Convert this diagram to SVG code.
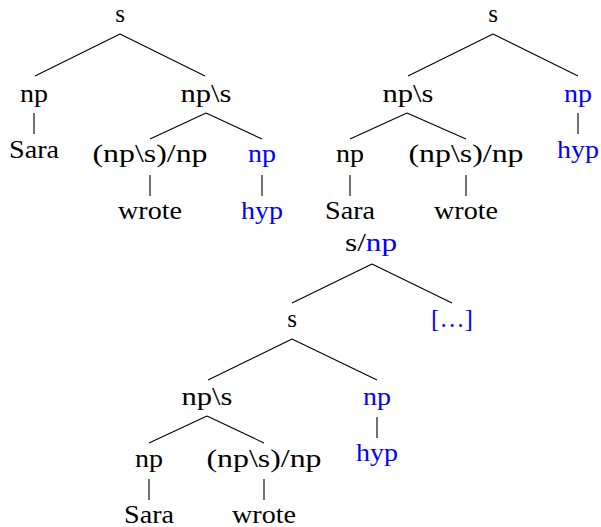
<svg xmlns="http://www.w3.org/2000/svg" width="601" height="527" viewBox="0 0 601 527">
<style>
.t{font-size:25px;text-anchor:middle;fill:#000}
.b{fill:#0000ff}
.e{stroke:#000;stroke-width:1.1;fill:none}
</style>
<rect width="601" height="527" fill="#fff"/>
<g id="connectors">
<path class="e" d="M120,34L35,76M120,34L205,76M34,113V134M206,113L150,139M206,113L262,139M150,175V196M262,175V196"/>
<path class="e" d="M493,34L408,76M493,34L578,76M407,113L350,139M407,113L466,139M350,175V196M466,175V196M578,113V134"/>
<path class="e" d="M372,264L292,303M372,264L452,303M292,339L208,380M292,339L377,380M207,416L149,443M207,416L264,443M149,479V500M264,479V500M377,417V438"/>
</g>
<g id="nodes" font-family="Liberation Serif">
<g id="t1-s"><text class="t" x="120" y="22">s</text></g>
<g id="t1-np"><text class="t" x="34" y="102" textLength="28" lengthAdjust="spacingAndGlyphs">np</text></g>
<g id="t1-sara"><text class="t" x="34" y="158" textLength="50" lengthAdjust="spacingAndGlyphs">Sara</text></g>
<g id="t1-nps"><text class="t" x="206" y="102" textLength="51" lengthAdjust="spacingAndGlyphs">np\s</text></g>
<g id="t1-verb"><text class="t" x="150" y="162" textLength="115" lengthAdjust="spacingAndGlyphs">(np\s)/np</text></g>
<g id="t1-np2"><text class="t b" x="262" y="162" textLength="28" lengthAdjust="spacingAndGlyphs">np</text></g>
<g id="t1-wrote"><text class="t" x="150" y="219" textLength="64" lengthAdjust="spacingAndGlyphs">wrote</text></g>
<g id="t1-hyp"><text class="t b" x="262" y="219" textLength="42" lengthAdjust="spacingAndGlyphs">hyp</text></g>

<g id="t2-s"><text class="t" x="493" y="22">s</text></g>
<g id="t2-nps"><text class="t" x="408" y="102" textLength="51" lengthAdjust="spacingAndGlyphs">np\s</text></g>
<g id="t2-np2"><text class="t b" x="578" y="102" textLength="28" lengthAdjust="spacingAndGlyphs">np</text></g>
<g id="t2-hyp"><text class="t b" x="578" y="158" textLength="42" lengthAdjust="spacingAndGlyphs">hyp</text></g>
<g id="t2-np"><text class="t" x="350" y="162" textLength="28" lengthAdjust="spacingAndGlyphs">np</text></g>
<g id="t2-verb"><text class="t" x="466" y="162" textLength="115" lengthAdjust="spacingAndGlyphs">(np\s)/np</text></g>
<g id="t2-sara"><text class="t" x="350" y="219" textLength="50" lengthAdjust="spacingAndGlyphs">Sara</text></g>
<g id="t2-wrote"><text class="t" x="466" y="219" textLength="64" lengthAdjust="spacingAndGlyphs">wrote</text></g>

<g id="t3-snp"><text class="t" x="371" y="251" textLength="52" lengthAdjust="spacingAndGlyphs">s/<tspan class="b">np</tspan></text></g>
<g id="t3-s"><text class="t" x="292" y="327">s</text></g>
<g id="t3-dots"><text class="t b" x="452" y="327" textLength="42" lengthAdjust="spacingAndGlyphs">[…]</text></g>
<g id="t3-nps"><text class="t" x="207" y="405" textLength="51" lengthAdjust="spacingAndGlyphs">np\s</text></g>
<g id="t3-np2"><text class="t b" x="377" y="405" textLength="28" lengthAdjust="spacingAndGlyphs">np</text></g>
<g id="t3-hyp"><text class="t b" x="377" y="461" textLength="42" lengthAdjust="spacingAndGlyphs">hyp</text></g>
<g id="t3-np"><text class="t" x="149" y="467" textLength="28" lengthAdjust="spacingAndGlyphs">np</text></g>
<g id="t3-verb"><text class="t" x="264" y="467" textLength="115" lengthAdjust="spacingAndGlyphs">(np\s)/np</text></g>
<g id="t3-sara"><text class="t" x="149" y="523" textLength="50" lengthAdjust="spacingAndGlyphs">Sara</text></g>
<g id="t3-wrote"><text class="t" x="264" y="523" textLength="64" lengthAdjust="spacingAndGlyphs">wrote</text></g>
</g>
</svg>
